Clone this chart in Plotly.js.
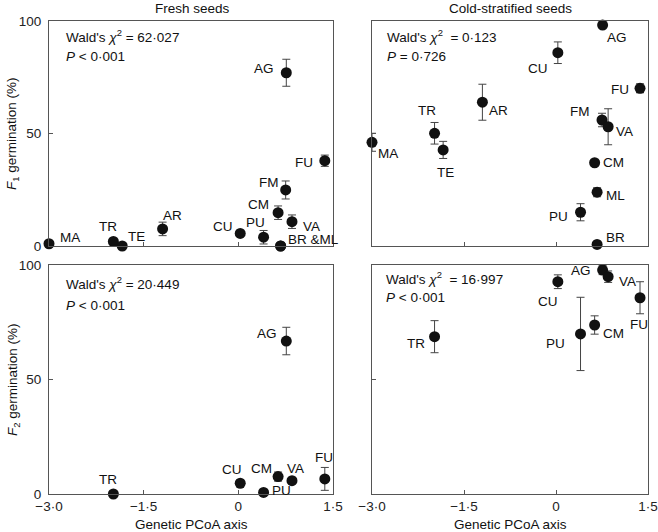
<!DOCTYPE html>
<html><head><meta charset="utf-8">
<script src="https://cdn.plot.ly/plotly-3.0.1.min.js"></script>
<style>body{margin:0;background:#fff}#chart{width:658px;height:532px}</style>
</head><body><div id="chart"></div>
<script>
// ---- data ----
const populations = ["MA","TR","TE","AR","CU","PU","BR","ML","CM","FM","AG","VA","FU"];
const pcoaAxis    = [-3.0,-1.98,-1.84,-1.2,0.03,0.40,0.67,0.67,0.63,0.75,0.76,0.85,1.37];
const f1Fresh     = [1,2,0,7.6,5.6,3.9,0,0,14.8,24.9,77,10.8,37.9];
const f1FreshErr  = [0,0,0,3,0,3,0,0,3,4,6,3,2.5];
const f1Cold      = [46.1,50.1,42.7,63.9,85.9,15,0.7,23.9,37,56,98.2,53,70.1];
const f1ColdErr   = [4,4.8,3.8,8,4.8,3.8,0,2,1,3,0,8,2];
const f2Fresh     = [null,0,null,null,4.7,0.7,null,null,7.6,null,66.8,5.8,6.6];
const f2FreshErr  = [0,0,0,0,0,0,0,0,2,0,6,0,5];
const f2Cold      = [null,68.7,null,null,92.7,69.9,null,null,73.8,null,97.8,94.9,85.7];
const f2ColdErr   = [0,7,0,0,3,16,0,0,4,0,2,2.5,7];
const xTickVals   = [-3,-1.5,0,1.5];
const xTickText   = ["\u22123\u00b70","\u22121\u00b75","0","1\u00b75"];
const yTickVals   = [0,50,100];
const stats = [
  ["Wald's <i>\u03c7</i><sup>2</sup> = 62\u00b7027","<i>P</i> &lt; 0\u00b7001"],
  ["Wald's <i>\u03c7</i><sup>2</sup>  = 0\u00b7123","<i>P</i> = 0\u00b7726"],
  ["Wald's <i>\u03c7</i><sup>2</sup> = 20\u00b7449","<i>P</i> &lt; 0\u00b7001"],
  ["Wald's <i>\u03c7</i><sup>2</sup>  = 16\u00b7997","<i>P</i> &lt; 0\u00b7001"]
];

// ---- label placement (style): [xanchor, dx, dy(down), optional text] ----
const labelStyle = [
  {MA:["left",9,-6],TR:["center",-5,-15],TE:["left",4,-10],AR:["center",10,-13],CU:["right",-5,-7],
   PU:["center",-8,-15],BR:["left",5,-7,"BR &amp;ML"],CM:["right",-7,-8],FM:["right",-5,-7],
   AG:["right",-10,-4],VA:["left",9,5],FU:["right",-10,2]},
  {MA:["left",4,11],TR:["center",-8,-23],TE:["center",2,23],AR:["left",5,8],CU:["right",-8,16],
   PU:["right",-11,4],BR:["left",7,-7],ML:["left",7,3],CM:["left",6,0],FM:["right",-10,-9],
   AG:["left",2,12],VA:["left",6,5],FU:["right",-9,1]},
  {TR:["center",-5,-15],CU:["center",-8,-14],CM:["right",-4,-8],PU:["left",6,-2],
   VA:["center",4,-12],FU:["center",-1,-21],AG:["right",-7,-8]},
  {AG:["right",-10,0],VA:["left",9,5],CU:["center",-10,20],FU:["center",-1,27],
   CM:["left",6,8],PU:["right",-14,10],TR:["right",-8,7]}
];

const FONT = "Liberation Sans, Arial, Helvetica, sans-serif";
const FS = 13.5;
const panels = [[f1Fresh,f1FreshErr],[f1Cold,f1ColdErr],[f2Fresh,f2FreshErr],[f2Cold,f2ColdErr]];
const traces = [], annotations = [];
panels.forEach((p,i)=>{
  const sfx = i===0 ? "" : String(i+1);
  const xs=[],ys=[],es=[];
  p[0].forEach((v,j)=>{ if(v!==null){ xs.push(pcoaAxis[j]); ys.push(v); es.push(p[1][j]);
    const st = labelStyle[i][populations[j]];
    if(st){ annotations.push({xref:"x"+sfx,yref:"y"+sfx,x:pcoaAxis[j],y:v,text:st[3]||populations[j],
      showarrow:false,xanchor:st[0],yanchor:"middle",xshift:st[1],yshift:-st[2],
      font:{family:FONT,size:FS,color:"#111"}}); }
  }});
  traces.push({type:"scatter",mode:"markers",x:xs,y:ys,xaxis:"x"+sfx,yaxis:"y"+sfx,cliponaxis:false,
    marker:{size:11,color:"#111"},
    error_y:{type:"data",array:es,visible:true,color:"#444",thickness:1,width:4},hoverinfo:"skip"});
});

const W=658,H=532;
const L=[49/W,333/W], R=[372/W,648/W], T=[1-246/H,1-21/H], B=[1-494/H,1-265/H];
function xa(dom,anchor,labels){return {domain:dom,anchor:anchor,range:[-3,1.5],tickvals:xTickVals,ticktext:xTickText,
  showticklabels:labels,ticks:"inside",ticklen:4,tickcolor:"#555",showline:true,mirror:true,linecolor:"#555",linewidth:1,
  showgrid:false,zeroline:false,tickfont:{family:FONT,size:FS,color:"#222"},fixedrange:true};}
function ya(dom,anchor,labels){return {domain:dom,anchor:anchor,range:[0,100],tickvals:yTickVals,
  showticklabels:labels,ticks:"inside",ticklen:4,tickcolor:"#555",showline:true,mirror:true,linecolor:"#555",linewidth:1,
  showgrid:false,zeroline:false,tickfont:{family:FONT,size:FS,color:"#222"},ticklabelstandoff:4,fixedrange:true};}

// stats text
const statPos=[[64,36,57],[385,36,57],[64,283,305],[384,278,297]];
stats.forEach((s,i)=>{
  [0,1].forEach(k=>annotations.push({xref:"paper",yref:"paper",x:statPos[i][0]/W,y:1-statPos[i][k+1]/H,
    text:s[k],showarrow:false,xanchor:"left",yanchor:"middle",font:{family:FONT,size:FS,color:"#111"}}));
});
// panel titles and axis titles
const txt=(x,y,t,ang)=>({xref:"paper",yref:"paper",x:x/W,y:1-y/H,text:t,showarrow:false,xanchor:"center",yanchor:"middle",
  textangle:ang||0,font:{family:FONT,size:FS,color:"#111"}});
annotations.push(txt(192,8,"Fresh seeds"));
annotations.push(txt(510,8,"Cold-stratified seeds"));
annotations.push(txt(13,134,"<i>F</i><sub>1</sub> germination (%)",-90));
annotations.push(txt(13,380,"<i>F</i><sub>2</sub> germination (%)",-90));
annotations.push(txt(191,524,"Genetic PCoA axis"));
annotations.push(txt(510,524,"Genetic PCoA axis"));

const layout={width:W,height:H,margin:{l:0,r:0,t:0,b:0},showlegend:false,paper_bgcolor:"#fff",plot_bgcolor:"#fff",
  font:{family:FONT,size:FS,color:"#111"},
  xaxis:xa(L,"y",false),yaxis:ya(T,"x",true),
  xaxis2:xa(R,"y2",false),yaxis2:ya(T,"x2",false),
  xaxis3:xa(L,"y3",true),yaxis3:ya(B,"x3",true),
  xaxis4:xa(R,"y4",true),yaxis4:ya(B,"x4",false),
  annotations:annotations};
Plotly.newPlot("chart",traces,layout,{staticPlot:true,displayModeBar:false});
</script></body></html>
